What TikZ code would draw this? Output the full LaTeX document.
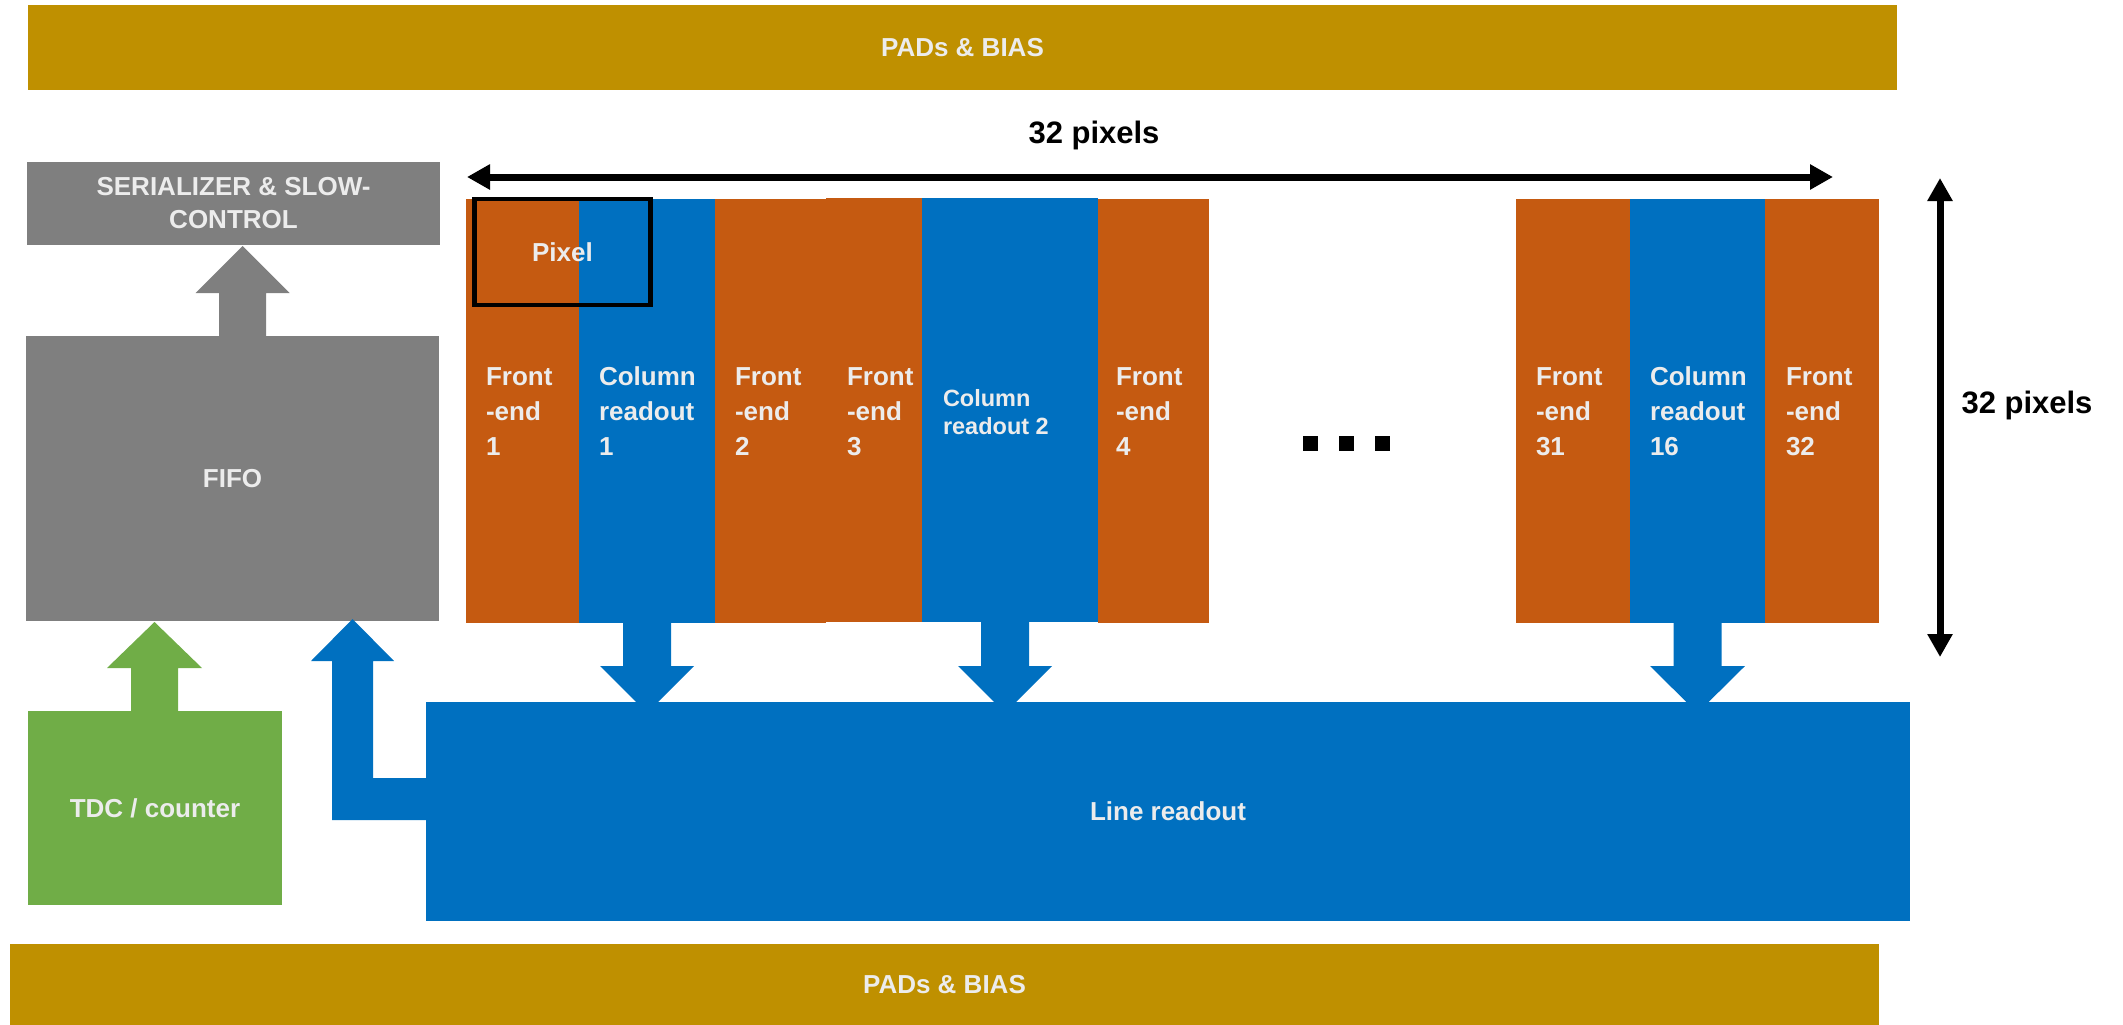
\documentclass[tikz,border=0pt]{standalone}
\usepackage{fontspec}
\setmainfont{Liberation Sans}
\usetikzlibrary{arrows.meta,calc}
\definecolor{padc}{HTML}{BF9000}
\definecolor{grayc}{HTML}{7F7F7F}
\definecolor{orc}{HTML}{C55A11}
\definecolor{blc}{HTML}{0070C0}
\definecolor{grc}{HTML}{70AD47}
\definecolor{txc}{RGB}{236,236,236}
\newcommand{\vblockarrow}[7]{%
  \fill[#7] ({#1-#2},#6) -- ({#1-#2},#5) -- ({#1-#3},#5) -- (#1,#4)
    -- ({#1+#3},#5) -- ({#1+#2},#5) -- ({#1+#2},#6) -- cycle;}
\begin{document}
\begin{tikzpicture}[x=1pt,y=-1pt,
  blk/.style={draw=none,inner sep=0pt,outer sep=0pt,anchor=north west,
    text=txc,align=center,font=\bfseries\fontsize{26}{33}\selectfont},
  colbox/.style={blk},
  coltxt/.style={inner sep=0pt,outer sep=0pt,anchor=north west,text=txc,
    align=left,font=\bfseries\fontsize{26}{35}\selectfont},
  dim/.style={line width=7pt,black,
    {Triangle[length=23pt,width=24pt]}-{Triangle[length=23pt,width=24pt]}},
  dimlbl/.style={inner sep=0pt,text=black,font=\bfseries\fontsize{31}{36}\selectfont},
  dot/.style={fill=black,inner sep=0pt,minimum size=15pt,anchor=north west}]
\useasboundingbox (0,0) rectangle (2123,1025);

% PADs bars
\node[blk,fill=padc,minimum width=1869pt,minimum height=85pt] (padtop) at (28,5) {PADs \& BIAS};
\node[blk,fill=padc,minimum width=1869pt,minimum height=81pt] (padbot) at (10,944) {PADs \& BIAS};

% left blocks
\node[blk,fill=grayc,minimum width=413pt,minimum height=83pt] (ser) at (27,162) {SERIALIZER \& SLOW-\\CONTROL};
\node[blk,fill=grayc,minimum width=413pt,minimum height=285pt] (fifo) at (26,336) {FIFO};
\node[blk,fill=grc,minimum width=254pt,minimum height=194pt] (tdc) at (28,711) {TDC / counter};

% columns
\node[colbox,fill=orc,minimum width=113pt,minimum height=424pt] (fe1) at (466,199) {};
\node[colbox,fill=blc,minimum width=136pt,minimum height=424pt] (cr1) at (579,199) {};
\node[colbox,fill=orc,minimum width=111pt,minimum height=424pt] (fe2) at (715,199) {};
\node[colbox,fill=orc,minimum width=96pt,minimum height=424pt] (fe3) at (826,198) {};
\node[colbox,fill=blc,minimum width=176pt,minimum height=424pt] (cr2) at (922,198) {};
\node[colbox,fill=orc,minimum width=111pt,minimum height=424pt] (fe4) at (1098,199) {};
\node[colbox,fill=orc,minimum width=114pt,minimum height=424pt] (fe31) at (1516,199) {};
\node[colbox,fill=blc,minimum width=135pt,minimum height=424pt] (cr16) at (1630,199) {};
\node[colbox,fill=orc,minimum width=114pt,minimum height=424pt] (fe32) at (1765,199) {};

% column texts
\node[coltxt] (t1) at (486,368) {Front\\-end\\1};
\node[coltxt] (t2) at (599,367) {Column\\readout\\1};
\node[coltxt] (t3) at (735,368) {Front\\-end\\2};
\node[coltxt] (t4) at (847,368) {Front\\-end\\3};
\node[coltxt,font=\bfseries\fontsize{23.5}{28}\selectfont] (t5) at (943,389) {Column\\readout 2};
\node[coltxt] (t6) at (1116,368) {Front\\-end\\4};
\node[coltxt] (t7) at (1536,368) {Front\\-end\\31};
\node[coltxt] (t8) at (1650,367) {Column\\readout\\16};
\node[coltxt] (t9) at (1786,368) {Front\\-end\\32};

% pixel box
\node[draw=black,line width=4.5pt,inner sep=0pt,minimum width=176pt,minimum height=106pt,
  text=txc,font=\bfseries\fontsize{26}{33}\selectfont] (pix) at (562.5,252) {Pixel};

% dots
\node[dot] (d1) at (1303,436) {};
\node[dot] (d2) at (1339,436) {};
\node[dot] (d3) at (1375,436) {};

% line readout
\node[blk,fill=blc,minimum width=1484pt,minimum height=219pt] (line) at (426,702) {Line readout};

% block arrows
\vblockarrow{242.5}{23.5}{47}{246}{293}{337}{grayc}
\vblockarrow{154.5}{23.5}{47.5}{622}{668}{712}{grc}
\vblockarrow{647}{24}{47}{713}{666}{620}{blc}
\vblockarrow{1005}{24}{47}{713}{666}{620}{blc}
\vblockarrow{1697.5}{24}{47.5}{713}{666}{620}{blc}
\fill[blc] (332,820) -- (332,661) -- (311,661) -- (352.5,619) -- (394,661) -- (373,661)
  -- (373,778) -- (430,778) -- (430,820) -- cycle;

% dimension arrows
\coordinate (hl) at (467,177);
\coordinate (hr) at (1833,177);
\coordinate (vt) at (1940,178);
\coordinate (vb) at (1940,657);
\draw[dim] (hl) -- (hr);
\draw[dim] (vt) -- (vb);
\node[dimlbl] (lh) at (1094,135) {32 pixels};
\node[dimlbl] (lv) at (2027,405) {32 pixels};
\end{tikzpicture}
\end{document}
